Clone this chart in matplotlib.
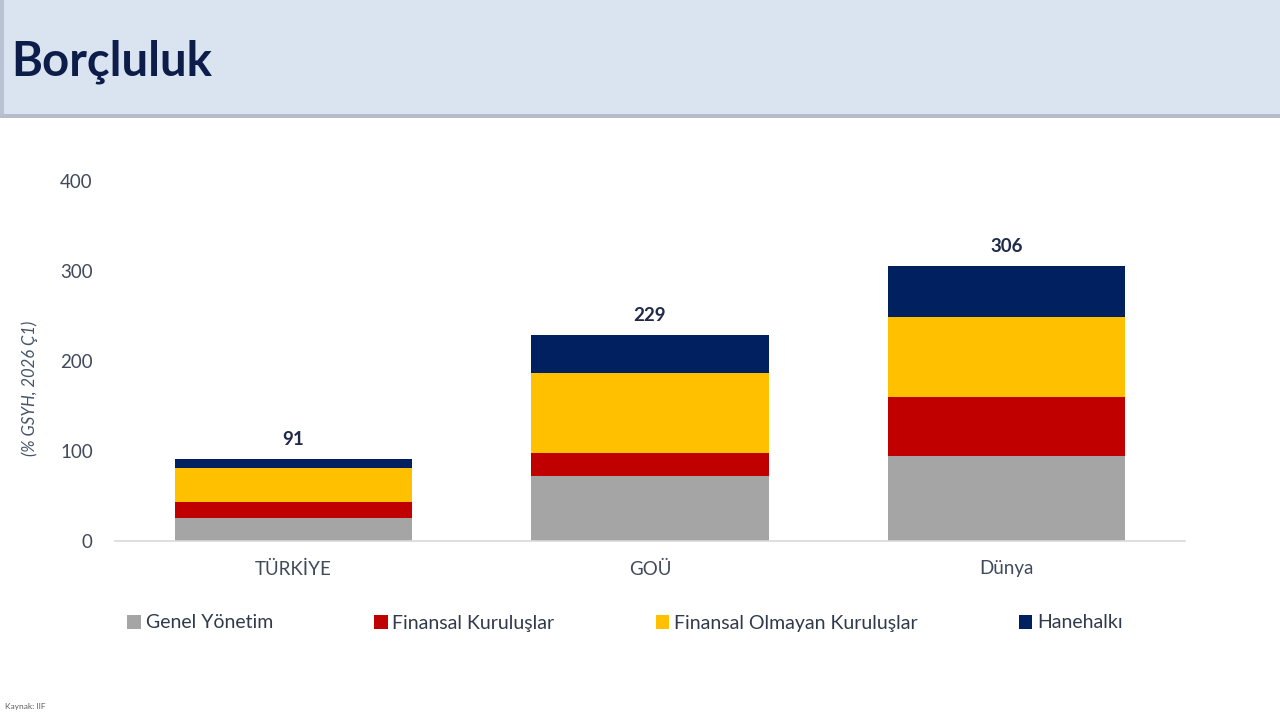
import matplotlib
matplotlib.use("Agg")
import matplotlib.pyplot as plt
from matplotlib.patches import Rectangle
import numpy as np

plt.rcParams["font.family"] = ["Lato", "DejaVu Sans"]

# veri (% GSYH, 2026 Ç1)
categories = ["TÜRKİYE", "GOÜ", "Dünya"]
genel_yonetim = [26, 72, 94]
finansal = [17, 26, 66]
finansal_olmayan = [38, 89, 89]
hanehalki = [10, 42, 57]
totals = [91, 229, 306]

series_names = ["Genel Yönetim", "Finansal Kuruluşlar", "Finansal Olmayan Kuruluşlar", "Hanehalkı"]
colors = ["#a5a5a5", "#c00000", "#ffc000", "#002060"]

fig = plt.figure(figsize=(12.8, 7.2), dpi=100)

# başlık bandı
fig.patches.append(Rectangle((0, 1 - 115 / 720), 1, 115 / 720, transform=fig.transFigure,
                             facecolor="#dae3f0", edgecolor="none", zorder=0))
fig.patches.append(Rectangle((0, 1 - 118 / 720), 1, 4 / 720, transform=fig.transFigure,
                             facecolor="#b4bdcb", edgecolor="none", zorder=0))
fig.patches.append(Rectangle((0, 1 - 115 / 720), 4 / 1280, 115 / 720, transform=fig.transFigure,
                             facecolor="#b7c2d3", edgecolor="none", zorder=0))
fig.text(11 / 1280, 1 - 62 / 720, "Borçluluk", fontsize=34, fontweight="bold",
         color="#0c1d4a", va="center", ha="left")

ax = fig.add_axes([115 / 1280, 1 - 541 / 720, 1070 / 1280, 360 / 720])
x = np.arange(len(categories))
width = 0.665
bottom = np.zeros(len(categories))
for vals, name, c in zip([genel_yonetim, finansal, finansal_olmayan, hanehalki], series_names, colors):
    ax.bar(x, vals, width, bottom=bottom, color=c, label=name, zorder=2)
    bottom += np.array(vals)

for xi, t in zip(x, totals):
    ax.text(xi, t + 12, str(t), ha="center", va="bottom", fontsize=13.5,
            fontweight="bold", color="#1f2a4a")

ax.set_xlim(-0.5, 2.5)
ax.set_ylim(0, 400)
ax.set_yticks([0, 100, 200, 300, 400])
ax.set_xticks(x)
ax.set_xticklabels(categories)
ax.tick_params(axis="both", length=0, labelsize=13.5, labelcolor="#404a5a")
ax.tick_params(axis="y", pad=16)
ax.tick_params(axis="x", pad=14)
for s in ["top", "right", "left"]:
    ax.spines[s].set_visible(False)
ax.spines["bottom"].set_color("#d9d9d9")
ax.spines["bottom"].set_linewidth(1.2)

fig.text(30 / 1280, 1 - 388 / 720, "(% GSYH, 2026 Ç1)", rotation=90, fontsize=12,
         fontstyle="italic", color="#44546a", ha="center", va="center")

ax.legend(loc="center", bbox_to_anchor=(625 / 1280, 1 - 623 / 720), bbox_transform=fig.transFigure,
          ncol=4, frameon=False, fontsize=14, handlelength=0.7, handleheight=0.7,
          handletextpad=0.25, columnspacing=5.2, labelcolor="#303a4a")

fig.text(5 / 1280, 1 - 706 / 720, "Kaynak: IIF", fontsize=6, color="#606060", ha="left", va="center")

fig.savefig("out.png", dpi=100)
